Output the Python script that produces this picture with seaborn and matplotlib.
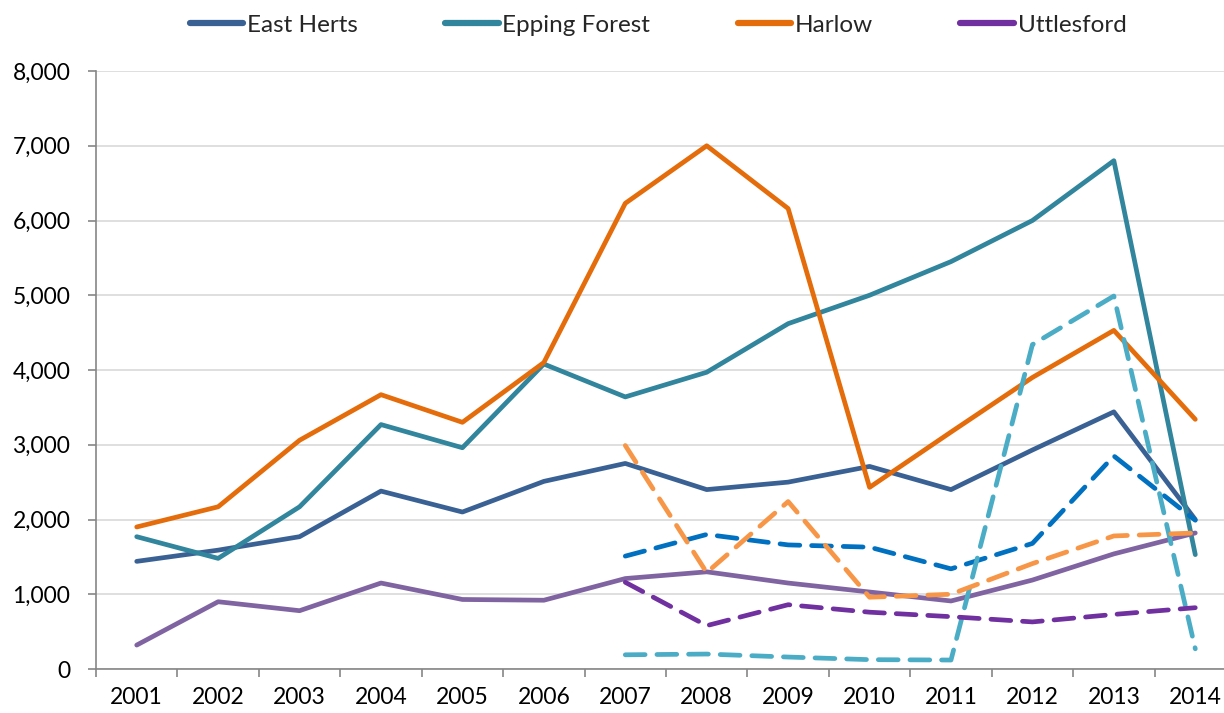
import numpy as np
import pandas as pd
import matplotlib
matplotlib.use("Agg")
import matplotlib.pyplot as plt
from matplotlib.lines import Line2D
from matplotlib.ticker import FuncFormatter, FixedLocator
import seaborn as sns

years = [2001, 2002, 2003, 2004, 2005, 2006, 2007,
         2008, 2009, 2010, 2011, 2012, 2013, 2014]

# Solid series (full period)
east_herts = [1440, 1590, 1770, 2380, 2100, 2510, 2750, 2400, 2500, 2710, 2400, 2930, 3440, 2000]
epping_forest = [1770, 1480, 2170, 3270, 2960, 4080, 3640, 3970, 4620, 5000, 5450, 6000, 6800, 1530]
harlow = [1900, 2170, 3060, 3670, 3300, 4100, 6230, 7000, 6160, 2430, 3170, 3900, 4530, 3340]
uttlesford = [320, 900, 780, 1150, 930, 920, 1210, 1300, 1150, 1030, 910, 1190, 1540, 1820]

# Dashed series (2007 onwards)
alt_years = [2007, 2008, 2009, 2010, 2011, 2012, 2013, 2014]
east_herts_alt = [1510, 1800, 1660, 1630, 1340, 1680, 2850, 1990]
epping_forest_alt = [190, 200, 160, 125, 120, 4340, 4990, 270]
harlow_alt = [2990, 1290, 2240, 960, 1000, 1410, 1780, 1820]
uttlesford_alt = [1160, 580, 860, 760, 700, 630, 730, 820]

districts = ["East Herts", "Epping Forest", "Harlow", "Uttlesford"]
solid_colors = {"East Herts": "#3A6194", "Epping Forest": "#31859C",
                "Harlow": "#E46C0A", "Uttlesford": "#8064A2"}
dash_colors = {"East Herts": "#0070C0", "Epping Forest": "#4BACC6",
               "Harlow": "#F79646", "Uttlesford": "#7030A0"}
legend_colors = {"East Herts": "#3A6194", "Epping Forest": "#31859C",
                 "Harlow": "#E46C0A", "Uttlesford": "#7030A0"}

solid_df = pd.concat([
    pd.DataFrame({"year": years, "value": vals, "district": name})
    for name, vals in zip(districts, [east_herts, epping_forest, harlow, uttlesford])
])
alt_df = pd.concat([
    pd.DataFrame({"year": alt_years, "value": vals, "district": name})
    for name, vals in zip(districts, [east_herts_alt, epping_forest_alt, harlow_alt, uttlesford_alt])
])
pos = {y: i for i, y in enumerate(years)}
solid_df["pos"] = solid_df["year"].map(pos)
alt_df["pos"] = alt_df["year"].map(pos)

sns.set_theme(style="white")
plt.rcParams["font.family"] = ["Lato", "DejaVu Sans"]

W, H = 1224, 713
fig = plt.figure(figsize=(W / 100, H / 100), dpi=100)
ax = fig.add_axes([96 / W, (H - 669) / H, (1236 - 96) / W, (669 - 71) / H])

sns.lineplot(data=solid_df, x="pos", y="value", hue="district",
             palette=solid_colors, linewidth=3.4, legend=False, sort=False,
             ax=ax, solid_capstyle="round", solid_joinstyle="round")
for name in districts:
    sub = alt_df[alt_df["district"] == name]
    sns.lineplot(data=sub, x="pos", y="value", color=dash_colors[name],
                 linewidth=3.4, legend=False, sort=False, ax=ax,
                 linestyle=(0, (4.2, 2.5)), dash_capstyle="round",
                 dash_joinstyle="round")

ax.set_xlim(-0.5, len(years) - 0.5)
ax.set_ylim(0, 8000)
ax.set_yticks(np.arange(0, 8001, 1000))
ax.yaxis.set_major_formatter(FuncFormatter(lambda v, p: f"{int(v):,}"))
ax.set_xticks(range(len(years)))
ax.set_xticklabels([str(y) for y in years])
ax.xaxis.set_minor_locator(FixedLocator(np.arange(-0.5, len(years), 1.0)))
ax.set_xlabel("")
ax.set_ylabel("")

ax.grid(axis="y", color="#D9D9D9", linewidth=1.2)
ax.set_axisbelow(True)
for side in ["top", "right"]:
    ax.spines[side].set_visible(False)
for side in ["left", "bottom"]:
    ax.spines[side].set_color("#868686")
    ax.spines[side].set_linewidth(1.2)

ax.tick_params(axis="x", which="major", length=0, pad=13, labelsize=16.5, colors="black")
ax.tick_params(axis="x", which="minor", length=5.5, width=1.2, color="#868686", direction="out", bottom=True)
ax.tick_params(axis="y", which="major", length=5.5, width=1.2, color="#868686",
               direction="out", left=True, pad=13, labelsize=16.5, labelcolor="black")

handles = [Line2D([0], [0], color=legend_colors[n], linewidth=4.5,
                  solid_capstyle="round") for n in districts]
fig.legend(handles, districts, loc="center", bbox_to_anchor=(658 / W, 1 - 25 / H),
           ncol=4, frameon=False, fontsize=17.5, handlelength=2.2,
           handletextpad=0.15, columnspacing=3.6)

fig.savefig("out.png", dpi=100)
